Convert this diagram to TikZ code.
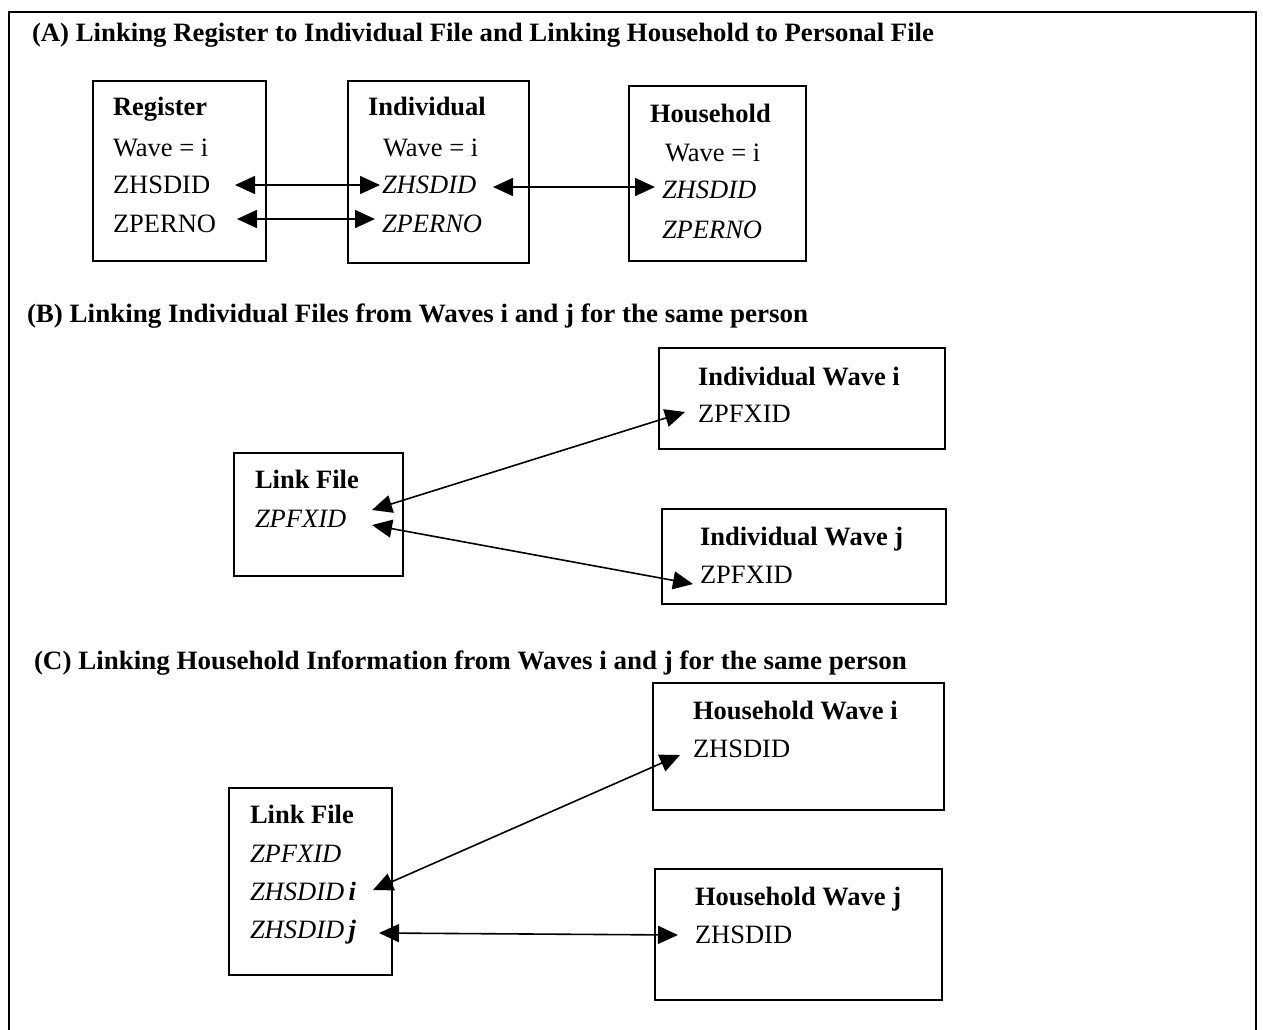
\documentclass[tikz,border=0pt]{standalone}
\usepackage{fontspec}
\setmainfont{Liberation Serif}
\usepackage{graphicx}
\usetikzlibrary{arrows.meta}
\tikzset{
  box/.style={draw, line width=1.8pt, inner sep=0pt, outer sep=0pt},
  txt/.style={inner sep=0pt, outer sep=0pt, anchor=base west, font=\fontsize{26.5}{30}\selectfont},
  ttl/.style={inner sep=0pt, outer sep=0pt, anchor=base west, font=\fontsize{26.5}{30}\selectfont\bfseries},
  link/.style={line width=1.6pt, {Triangle[length=20pt,width=18pt]}-{Triangle[length=20pt,width=18pt]}}
}
\newcommand\fitw[2]{\resizebox{#1}{\height}{#2}}
\begin{document}
\begin{tikzpicture}[x=1pt,y=-1pt]
\useasboundingbox (0,0) rectangle (1263,1029);
% outer frame (open at bottom)
\draw[line width=1.8pt] (9,1035) -- (9,12) -- (1256,12) -- (1256,1035);

% ---------- (A) ----------
\node[ttl] (tA) at (32,41) {\fitw{902pt}{(A) Linking Register to Individual File and Linking Household to Personal File}};

\node[box, minimum width=173pt, minimum height=180pt] (reg) at (179.5,171) {};
\node[box, minimum width=181pt, minimum height=182pt] (ind) at (438.5,172) {};
\node[box, minimum width=177pt, minimum height=175pt] (hh)  at (717.5,173.5) {};

\node[txt] (regT) at (113,115) {\textbf{Register}};
\node[txt] (regW) at (113,156) {Wave = i};
\node[txt] (regZ) at (113,193) {ZHSDID};
\node[txt] (regP) at (113,232) {ZPERNO};

\node[txt] (indT) at (368,115) {\textbf{Individual}};
\node[txt] (indW) at (383,156) {Wave = i};
\node[txt] (indZ) at (382,193) {\textit{ZHSDID}};
\node[txt] (indP) at (382,232) {\textit{ZPERNO}};

\node[txt] (hhT) at (650,122) {\textbf{Household}};
\node[txt] (hhW) at (665,161) {Wave = i};
\node[txt] (hhZ) at (662,198) {\textit{ZHSDID}};
\node[txt] (hhP) at (662,238) {\textit{ZPERNO}};

\coordinate (a1l) at (235,185);
\coordinate (a1r) at (380,185);
\coordinate (a2l) at (237,219);
\coordinate (a2r) at (375,219);
\coordinate (a3l) at (493,187);
\coordinate (a3r) at (655,187);
\draw[link] (a1l) -- (a1r);
\draw[link] (a2l) -- (a2r);
\draw[link] (a3l) -- (a3r);

% ---------- (B) ----------
\node[ttl] (tB) at (27,322) {\fitw{781pt}{(B) Linking Individual Files from Waves i and j for the same person}};

\node[box, minimum width=169pt, minimum height=123pt] (lfB) at (318.5,514.5) {};
\node[box, minimum width=286pt, minimum height=101pt] (iwi) at (802,398.5) {};
\node[box, minimum width=284pt, minimum height=95pt]  (iwj) at (804,556.5) {};

\node[txt] (lfBT) at (255,488) {\textbf{Link File}};
\node[txt] (lfBZ) at (255,527) {\textit{ZPFXID}};
\node[txt] (iwiT) at (698,385) {\textbf{Individual Wave i}};
\node[txt] (iwiZ) at (698,422) {ZPFXID};
\node[txt] (iwjT) at (700,545) {\textbf{Individual Wave j}};
\node[txt] (iwjZ) at (700,583) {ZPFXID};

\coordinate (b1l) at (372,510);
\coordinate (b1r) at (685,412);
\coordinate (b2l) at (372,525);
\coordinate (b2r) at (693,584);
\draw[link] (b1l) -- (b1r);
\draw[link] (b2l) -- (b2r);

% ---------- (C) ----------
\node[ttl] (tC) at (34,669) {\fitw{873pt}{(C) Linking Household Information from Waves i and j for the same person}};

\node[box, minimum width=163pt, minimum height=187pt] (lfC) at (310.5,881.5) {};
\node[box, minimum width=291pt, minimum height=127pt] (hwi) at (798.5,746.5) {};
\node[box, minimum width=287pt, minimum height=131pt] (hwj) at (798.5,934.5) {};

\node[txt] (lfCT) at (250,823) {\textbf{Link File}};
\node[txt] (lfCZ) at (250,862) {\textit{ZPFXID}};
\node[txt] (lfCi) at (250,900) {\textit{ZHSDID}\,\textbf{\textit{i}}};
\node[txt] (lfCj) at (250,938) {\textit{ZHSDID}\,\textbf{\textit{j}}};
\node[txt] (hwiT) at (693,719) {\textbf{Household Wave i}};
\node[txt] (hwiZ) at (693,757) {ZHSDID};
\node[txt] (hwjT) at (695,905) {\textbf{Household Wave j}};
\node[txt] (hwjZ) at (695,943) {ZHSDID};

\coordinate (c1l) at (373,890);
\coordinate (c1r) at (680,755);
\coordinate (c2l) at (379,933);
\coordinate (c2r) at (678,935);
\draw[link] (c1l) -- (c1r);
\draw[link] (c2l) -- (c2r);
\end{tikzpicture}
\end{document}
